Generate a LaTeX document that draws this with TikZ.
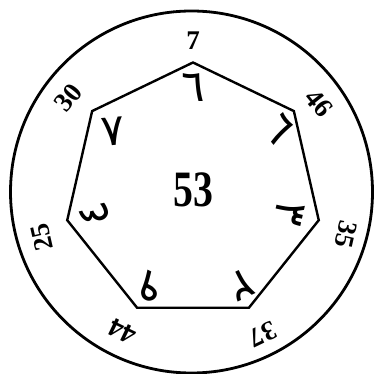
\documentclass[tikz,border=0pt]{standalone}
\usepackage{fontspec}
\setmainfont{Liberation Serif}
\newfontfamily\arabicfont[Script=Arabic]{DejaVu Sans}
\begin{document}
\begin{tikzpicture}[x=1pt,y=1pt,
  outernum/.style={font=\bfseries\fontsize{27}{27}\selectfont, inner sep=0pt},
  innerdig/.style={font=\arabicfont\fontsize{44}{44}\selectfont, inner sep=0pt},
  centernum/.style={font=\bfseries\fontsize{51}{51}\selectfont, inner sep=0pt},
  ring/.style={line width=2.8pt},
  poly/.style={line width=2.4pt, line join=miter}]
\useasboundingbox (0,0) rectangle (377,374);
\coordinate (cc) at (191.5,182);
\coordinate (hc) at (193,182.5);
\draw[ring] (cc) circle (181pt);
\foreach \i/\a in {1/90,2/38.57,3/-12.86,4/-64.29,5/-115.71,6/-167.14,7/141.43}
  \coordinate (v\i) at ([shift={(\a:129pt)}]hc);
\draw[poly] (v1) -- (v2) -- (v3) -- (v4) -- (v5) -- (v6) -- (v7) -- cycle;
% outer numbers
\node[outernum, rotate=0]       (o1) at ([shift={(90:151pt)}]hc) {7};
\node[outernum, rotate=-51.43]  (o2) at ([shift={(35:154pt)}]hc) {46};
\node[outernum, rotate=-102.86] (o3) at ([shift={(-15.6:159pt)}]hc) {35};
\node[outernum, rotate=-154.29] (o4) at ([shift={(-64:159pt)}]hc) {37};
\node[outernum, rotate=154.29]  (o5) at ([shift={(-116.6:157pt)}]hc) {44};
\node[outernum, rotate=102.86]  (o6) at ([shift={(-163:158pt)}]hc) {25};
\node[outernum, rotate=51.43]   (o7) at ([shift={(143:156pt)}]hc) {30};
% inner digits
\node[innerdig, rotate=0]       (i1) at ([shift={(90:104pt)}]hc) {٦};
\node[innerdig, rotate=-51.43]  (i2) at ([shift={(36:106pt)}]hc) {٦};
\node[innerdig, rotate=-102.86] (i3) at ([shift={(-12.6:99pt)}]hc) {٣};
\node[innerdig, rotate=-154.29] (i4) at ([shift={(-62.7:105pt)}]hc) {٢};
\node[innerdig, rotate=154.29]  (i5) at ([shift={(-114:105pt)}]hc) {٩};
\node[innerdig, rotate=102.86]  (i6) at ([shift={(-167:101pt)}]hc) {٤};
\node[innerdig, rotate=5]       (i7) at ([shift={(143:100pt)}]hc) {٧};
% centre
\node[centernum] (c) at (193.5,184.5) {\scalebox{0.78}[1]{53}};
\end{tikzpicture}
\end{document}
